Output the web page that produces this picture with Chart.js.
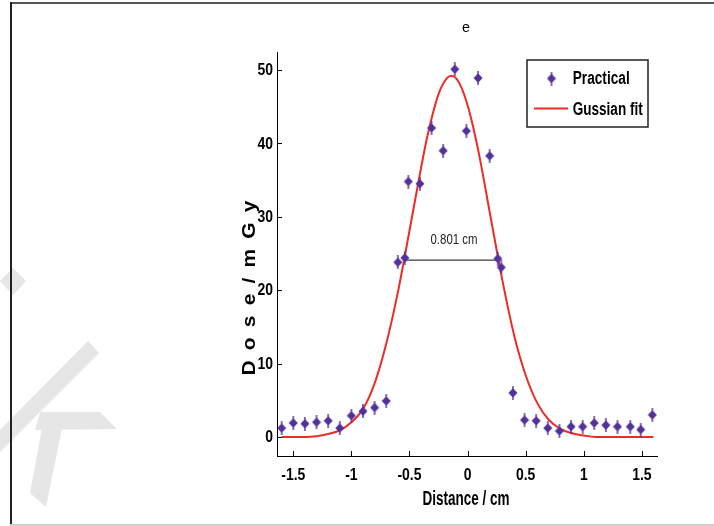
<!DOCTYPE html>
<html>
<head>
<meta charset="utf-8">
<script src="https://cdn.jsdelivr.net/npm/chart.js@4.4.0/dist/chart.umd.min.js"></script>
<style>
  html, body { margin: 0; padding: 0; background: #fff; }
  canvas { display: block; }
</style>
</head>
<body>
<canvas id="c" width="714" height="526"></canvas>
<script>
// values
const practicalX = [-1.6, -1.5, -1.4, -1.3, -1.2, -1.1, -1.0, -0.9, -0.8, -0.7, -0.6, -0.54, -0.51, -0.41, -0.31, -0.21, -0.11, -0.01, 0.09, 0.19, 0.26, 0.29, 0.39, 0.49, 0.59, 0.69, 0.79, 0.89, 0.99, 1.09, 1.19, 1.29, 1.4, 1.49, 1.59];
const practicalY = [1.2, 1.9, 1.8, 2.0, 2.2, 1.2, 2.9, 3.5, 4.0, 4.9, 23.8, 24.4, 34.8, 34.5, 42.1, 39.0, 50.1, 41.7, 48.9, 38.3, 24.3, 23.1, 6.0, 2.3, 2.2, 1.2, 0.8, 1.4, 1.4, 1.9, 1.6, 1.4, 1.4, 1.0, 3.0];

// gaussian fit curve, sampled from the red line
const fitX = [-1.6, -1.5, -1.4, -1.3, -1.2, -1.1, -1.0, -0.9, -0.8, -0.7, -0.6, -0.5, -0.4, -0.35, -0.3, -0.25, -0.2, -0.14, -0.1, -0.05, 0.0, 0.05, 0.1, 0.2, 0.3, 0.4, 0.5, 0.6, 0.7, 0.8, 0.9, 1.0, 1.1, 1.2, 1.3, 1.4, 1.5, 1.6];
const fitY = [0, 0, 0, 0.1, 0.4, 0.9, 2.0, 3.8, 7.3, 12.7, 19.7, 28.1, 36.7, 40.7, 44.0, 46.7, 48.4, 49.2, 48.9, 47.5, 45.2, 42.1, 38.4, 29.8, 21.3, 13.9, 8.4, 4.6, 2.3, 1.1, 0.5, 0.2, 0, 0, 0, 0, 0, 0];

// full width at half maximum marker
const fwhmX = [-0.537, 0.26];
const fwhmY = [24.1, 24.1];

const xTicks = [-1.5, -1, -0.5, 0, 0.5, 1, 1.5];
const yTicks = [0, 10, 20, 30, 40, 50];

const narrow = "'Liberation Sans', Arial, sans-serif";
const purple = '#52329a';
const red = '#ee2b25';

// diamond with a short vertical bar through it
function makeMarker() {
  const c = document.createElement('canvas');
  c.width = 10; c.height = 14;
  const g = c.getContext('2d');
  g.fillStyle = purple;
  g.fillRect(4.3, 0, 1.4, 14);
  g.beginPath();
  g.moveTo(5, 2.3);
  g.lineTo(9.5, 7);
  g.lineTo(5, 11.7);
  g.lineTo(0.5, 7);
  g.closePath();
  g.fill();
  return c;
}
const marker = makeMarker();

// text drawn condensed (sx < 1), like the squeezed bold font of the original
function squeezed(ctx, text, x, y, font, sx, align, rot, spacing) {
  ctx.save();
  ctx.font = font;
  ctx.textBaseline = 'middle';
  ctx.textAlign = 'left';
  ctx.translate(x, y);
  if (rot) ctx.rotate(rot);
  ctx.scale(sx, 1);
  const sp = spacing || 0;
  const chars = text.split('');
  let w = 0;
  chars.forEach(ch => { w += ctx.measureText(ch).width; });
  w += sp * (chars.length - 1);
  let pos = align === 'right' ? -w : align === 'left' ? 0 : -w / 2;
  chars.forEach(ch => {
    ctx.fillText(ch, pos, 0);
    pos += ctx.measureText(ch).width + sp;
  });
  ctx.restore();
}

// same, but squeezed to a target width
function fitText(ctx, text, cx, cy, font, width, rot, spacing) {
  ctx.save();
  ctx.font = font;
  const sp = spacing || 0;
  let w = 0;
  text.split('').forEach(ch => { w += ctx.measureText(ch).width; });
  w += sp * (text.length - 1);
  ctx.restore();
  squeezed(ctx, text, cx, cy, font, width / w, 'center', rot, sp);
}

const extras = {
  id: 'extras',
  beforeDraw(chart) {
    const ctx = chart.ctx;
    ctx.save();
    ctx.fillStyle = '#fff';
    ctx.fillRect(0, 0, chart.width, chart.height);
    // faint watermark strokes
    ctx.fillStyle = '#e6e6e6';
    [
      [[13, 268], [26, 281], [13, 295], [0, 281]],
      [[88, 341], [99, 353], [0, 452], [0, 430]],
      [[40, 412], [100, 412], [117, 429], [35, 430]],
      [[42, 428], [62, 428], [46, 507], [30, 493]]
    ].forEach(poly => {
      ctx.beginPath();
      poly.forEach((p, i) => i ? ctx.lineTo(p[0], p[1]) : ctx.moveTo(p[0], p[1]));
      ctx.closePath();
      ctx.fill();
    });
    // page frame
    ctx.fillStyle = '#555';
    ctx.fillRect(10, 2, 704, 2);
    ctx.fillStyle = '#222';
    ctx.fillRect(10, 2, 2, 524);
    ctx.fillStyle = '#cfcfcf';
    ctx.fillRect(10, 524, 704, 2);
    ctx.restore();
  },
  afterDraw(chart) {
    const ctx = chart.ctx;
    const x = chart.scales.x, y = chart.scales.y;
    ctx.save();
    // inward tick marks
    ctx.strokeStyle = '#000';
    ctx.lineWidth = 1;
    ctx.beginPath();
    x.ticks.forEach(t => {
      const px = Math.round(x.getPixelForValue(t.value)) + 0.5;
      ctx.moveTo(px, y.bottom);
      ctx.lineTo(px, y.bottom - 5);
    });
    y.ticks.forEach(t => {
      const py = Math.round(y.getPixelForValue(t.value)) + 0.5;
      ctx.moveTo(x.left, py);
      ctx.lineTo(x.left + 5, py);
    });
    ctx.stroke();

    // tick labels, condensed bold
    ctx.fillStyle = '#000';
    const tf = 'bold 17px ' + narrow;
    x.ticks.forEach(t => {
      squeezed(ctx, String(t.value), x.getPixelForValue(t.value), 475, tf, 0.82, 'center');
    });
    y.ticks.forEach(t => {
      squeezed(ctx, String(t.value), x.left - 4, y.getPixelForValue(t.value) + 0.5, tf, 0.82, 'right');
    });

    // title
    fitText(ctx, 'e', 466, 28, '15px Arial, sans-serif', 8);
    // axis titles
    fitText(ctx, 'Distance / cm', 466, 499, 'bold 20px ' + narrow, 87);
    fitText(ctx, 'D o s e / m G y', 250, 288, 'bold 19px ' + narrow, 175, -Math.PI / 2, 2);
    // FWHM label
    ctx.fillStyle = '#222';
    fitText(ctx, '0.801 cm', 454, 240, '14px ' + narrow, 47);

    // legend
    ctx.strokeStyle = '#222';
    ctx.lineWidth = 1.5;
    ctx.fillStyle = '#fff';
    ctx.fillRect(527, 60, 121, 67);
    ctx.strokeRect(527, 60, 121, 67);
    ctx.drawImage(marker, 551.5 - marker.width / 2, 78.5 - marker.height / 2);
    ctx.strokeStyle = red;
    ctx.lineWidth = 2;
    ctx.beginPath();
    ctx.moveTo(534, 108.5);
    ctx.lineTo(568, 108.5);
    ctx.stroke();
    ctx.fillStyle = '#000';
    fitText(ctx, 'Practical', 572.7 + 28.5, 79, 'bold 18px ' + narrow, 57);
    fitText(ctx, 'Gussian fit', 572.7 + 35, 110, 'bold 18px ' + narrow, 70);
    ctx.restore();
  }
};

new Chart(document.getElementById('c'), {
  type: 'scatter',
  data: {
    datasets: [
      {
        label: 'Practical',
        data: practicalX.map((v, i) => ({ x: v, y: practicalY[i] })),
        pointStyle: marker,
        showLine: false,
        order: 0
      },
      {
        label: 'FWHM',
        data: fwhmX.map((v, i) => ({ x: v, y: fwhmY[i] })),
        showLine: true,
        borderColor: '#3a3a3a',
        borderWidth: 1.2,
        pointRadius: 0,
        order: 1
      },
      {
        label: 'Gussian fit',
        data: fitX.map((v, i) => ({ x: v, y: fitY[i] })),
        showLine: true,
        borderColor: red,
        borderWidth: 2,
        pointRadius: 0,
        cubicInterpolationMode: 'monotone',
        order: 2
      }
    ]
  },
  options: {
    responsive: false,
    animation: false,
    devicePixelRatio: 1,
    layout: { padding: { top: 52, right: 57, left: 0, bottom: 0 } },
    plugins: {
      legend: { display: false },
      tooltip: { enabled: false },
      title: { display: false }
    },
    scales: {
      x: {
        type: 'linear',
        min: -1.64,
        max: 1.63,
        afterBuildTicks: s => { s.ticks = xTicks.map(v => ({ value: v })); },
        afterFit: s => { s.height = 70; },
        grid: { drawOnChartArea: false, drawTicks: false },
        border: { color: '#000', width: 1 },
        ticks: { display: false }
      },
      y: {
        type: 'linear',
        min: -2.6,
        max: 52.45,
        afterBuildTicks: s => { s.ticks = yTicks.map(v => ({ value: v })); },
        afterFit: s => { s.width = 277; },
        grid: { drawOnChartArea: false, drawTicks: false },
        border: { color: '#000', width: 1 },
        ticks: { display: false }
      }
    }
  },
  plugins: [extras]
});
</script>
</body>
</html>
